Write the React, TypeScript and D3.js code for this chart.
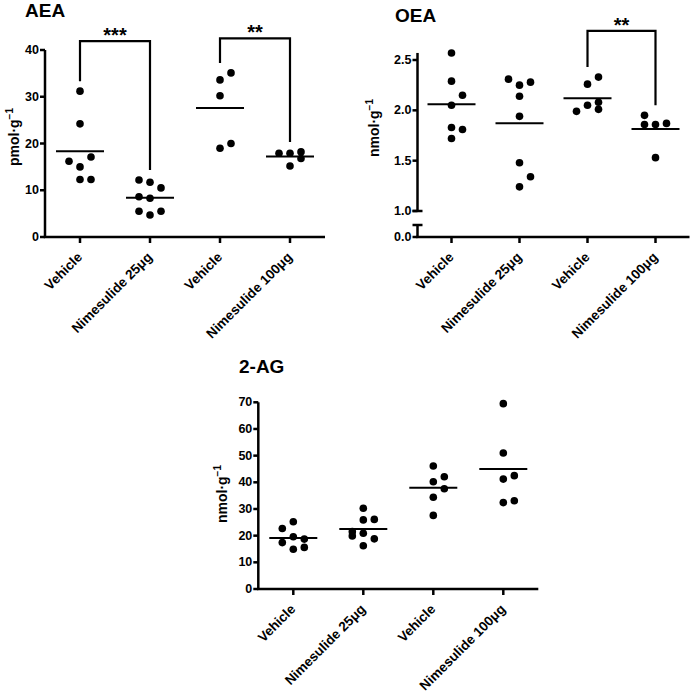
import React from "react";
import * as d3 from "d3";

// ---------- data ----------
const categories = ["Vehicle", "Nimesulide 25μg", "Vehicle", "Nimesulide 100μg"];

// AEA (pmol·g⁻¹)
const aeaVehicleA = [31.2, 24.2, 15.0, 17.1, 16.2, 12.3, 12.3];
const aeaNimesulide25 = [11.7, 10.5, 12.2, 8.3, 8.6, 4.7, 5.5, 5.5];
const aeaVehicleB = [33.6, 35.1, 30.2, 19.0, 20.0];
const aeaNimesulide100 = [17.9, 18.2, 17.9, 16.8, 15.2];
const aeaTicks = [0, 10, 20, 30, 40];
const aeaBrackets = [
  { from: 0, to: 1, label: "***", level: 41.9 },
  { from: 2, to: 3, label: "**", level: 42.5 },
];

// OEA (nmol·g⁻¹)
const oeaVehicleA = [2.57, 2.29, 2.05, 2.15, 1.83, 1.81, 1.72];
const oeaNimesulide25 = [2.25, 2.28, 2.31, 2.14, 1.94, 1.48, 1.24, 1.34];
const oeaVehicleB = [2.26, 2.33, 2.05, 2.08, 1.99, 2.01];
const oeaNimesulide100 = [1.86, 1.87, 1.95, 1.86, 1.53];
const oeaTicksUpper = [1.0, 1.5, 2.0, 2.5];
const oeaTicksLower = [0.0];
const oeaAxisMax = 2.57;
const oeaBrackets = [{ from: 2, to: 3, label: "**", level: 2.79 }];

// 2-AG (nmol·g⁻¹)
const agVehicleA = [25.2, 19.6, 18.7, 22.7, 17.4, 14.9, 15.6];
const agNimesulide25 = [30.3, 25.9, 26.1, 20.9, 18.8, 21.5, 19.9, 16.2];
const agVehicleB = [46.1, 40.2, 42.1, 37.6, 34.4, 27.6];
const agNimesulide100 = [69.5, 51.0, 41.2, 42.5, 32.4, 33.1];
const agTicks = [0, 10, 20, 30, 40, 50, 60, 70];

// ---------- style ----------
const FONT = "'Liberation Sans', Arial, Helvetica, sans-serif";
const DOT_R = 3.8;
const STEP = 11;
const MIN_GAP = 10.8;
const MEAN_HALF = 24;
const AXIS_W = 2.5;

type Pt = { x: number; y: number; slot: number };

function swarm(values: number[], y: (v: number) => number, cx: number): Pt[] {
  const placed: Pt[] = [];
  const slots = [0, 1, -1];
  values.forEach((v) => {
    const py = y(v);
    let chosen: number | null = null;
    let best = 0;
    let bestD = -1;
    for (const s of slots) {
      const same = placed.filter((p) => p.slot === s);
      const md = same.length ? (d3.min(same, (p) => Math.abs(p.y - py)) as number) : Infinity;
      if (md >= MIN_GAP) {
        chosen = s;
        break;
      }
      if (md > bestD) {
        bestD = md;
        best = s;
      }
    }
    const s = chosen === null ? best : chosen;
    placed.push({ x: cx + s * STEP, y: py, slot: s });
  });
  return placed;
}

type PanelProps = {
  title: string;
  titleX: number;
  titleY: number;
  ylabel: string;
  ylabelX: number;
  ylabelY: number;
  groups: number[][];
  ticks: number[];
  fmt: (v: number) => string;
  y: d3.ScaleLinear<number, number>;
  axisX: number;
  axisY: number;
  xEnd: number;
  brackets: { from: number; to: number; label: string; level: number }[];
  broken?: { lowerTicks: number[]; lowerTop: number };
};

function Panel(p: PanelProps) {
  const x = d3
    .scalePoint<string>()
    .domain(categories.map((c, i) => c + i))
    .range([p.axisX, p.xEnd])
    .padding(0.5);
  const cx = (i: number) => x(categories[i] + i) as number;
  const [dMin, dMax] = p.y.domain();
  const yTopPx = p.y(dMax);
  const yBotPx = p.broken ? p.y(dMin) : p.axisY;
  return (
    <g fontFamily={FONT} fontWeight="bold" fill="#000">
      <text x={p.titleX} y={p.titleY} fontSize={19}>{p.title}</text>
      <text
        transform={`translate(${p.ylabelX},${p.ylabelY}) rotate(-90)`}
        textAnchor="middle"
        dominantBaseline="central"
        fontSize={14}
      >
        {p.ylabel}
        <tspan fontSize={10} dy={-5}>−1</tspan>
      </text>
      {/* y axis */}
      <line x1={p.axisX} x2={p.axisX} y1={yTopPx} y2={yBotPx} stroke="#000" strokeWidth={AXIS_W} />
      {p.broken && (
        <g stroke="#000" strokeWidth={AXIS_W}>
          <line x1={p.axisX - 5} x2={p.axisX + 5} y1={yBotPx} y2={yBotPx} />
          <line x1={p.axisX} x2={p.axisX} y1={p.broken.lowerTop} y2={p.axisY} />
          <line x1={p.axisX - 5} x2={p.axisX + 5} y1={p.broken.lowerTop} y2={p.broken.lowerTop} />
        </g>
      )}
      {p.ticks.map((t) => (
        <g key={"t" + t}>
          <line x1={p.axisX - 5} x2={p.axisX} y1={p.y(t)} y2={p.y(t)} stroke="#000" strokeWidth={AXIS_W} />
          <text x={p.axisX - 6} y={p.y(t)} textAnchor="end" dominantBaseline="central" fontSize={12.5}>
            {p.fmt(t)}
          </text>
        </g>
      ))}
      {p.broken &&
        p.broken.lowerTicks.map((t) => (
          <g key={"lt" + t}>
            <line x1={p.axisX - 5} x2={p.axisX} y1={p.axisY} y2={p.axisY} stroke="#000" strokeWidth={AXIS_W} />
            <text x={p.axisX - 6} y={p.axisY} textAnchor="end" dominantBaseline="central" fontSize={12.5}>
              {p.fmt(t)}
            </text>
          </g>
        ))}
      {/* x axis */}
      <line x1={p.axisX - 1.25} x2={p.xEnd} y1={p.axisY} y2={p.axisY} stroke="#000" strokeWidth={AXIS_W} />
      {categories.map((c, i) => (
        <g key={"c" + i}>
          <line x1={cx(i)} x2={cx(i)} y1={p.axisY} y2={p.axisY + 6} stroke="#000" strokeWidth={AXIS_W} />
          <text
            transform={`translate(${cx(i) + 3},${p.axisY + 21}) rotate(-45)`}
            textAnchor="end"
            fontSize={13.5}
          >
            {c}
          </text>
        </g>
      ))}
      {/* points and means */}
      {p.groups.map((vals, i) => {
        const pts = swarm(vals, (v) => p.y(v), cx(i));
        const m = d3.mean(vals) as number;
        return (
          <g key={"g" + i}>
            {pts.map((pt, j) => (
              <circle key={j} cx={pt.x} cy={pt.y} r={DOT_R} fill="#000" />
            ))}
            <line
              x1={cx(i) - MEAN_HALF}
              x2={cx(i) + MEAN_HALF}
              y1={p.y(m)}
              y2={p.y(m)}
              stroke="#000"
              strokeWidth={2}
            />
          </g>
        );
      })}
      {/* significance brackets */}
      {p.brackets.map((b, k) => {
        const top = p.y(b.level);
        const l = cx(b.from);
        const r = cx(b.to);
        const lb = p.y(d3.max(p.groups[b.from]) as number) - 10;
        const rb = p.y(d3.max(p.groups[b.to]) as number) - 10;
        return (
          <g key={"b" + k}>
            <path
              d={`M${l},${lb}V${top}H${r}V${rb}`}
              fill="none"
              stroke="#000"
              strokeWidth={2.2}
            />
            <text x={(l + r) / 2} y={top + 1} textAnchor="middle" fontSize={20}>
              {b.label}
            </text>
          </g>
        );
      })}
    </g>
  );
}

export default function App() {
  const aeaY = d3.scaleLinear().domain([0, 40]).range([237, 50]);
  const oeaY = d3
    .scaleLinear()
    .domain([1.0, oeaAxisMax])
    .range([211, 211 - (oeaAxisMax - 1.0) * (151 / 1.5)]);
  const agY = d3.scaleLinear().domain([0, 70]).range([589, 402.3]);
  return (
    <svg
      width={693}
      height={694}
      style={{ position: "absolute", left: 0, top: 0, background: "#fff" }}
    >
      <rect width={693} height={694} fill="#fff" />
      <Panel
        title="AEA"
        titleX={25}
        titleY={17}
        ylabel="pmol·g"
        ylabelX={14}
        ylabelY={137}
        groups={[aeaVehicleA, aeaNimesulide25, aeaVehicleB, aeaNimesulide100]}
        ticks={aeaTicks}
        fmt={d3.format("d")}
        y={aeaY}
        axisX={45}
        axisY={237}
        xEnd={325}
        brackets={aeaBrackets}
      />
      <Panel
        title="OEA"
        titleX={395}
        titleY={22}
        ylabel="nmol·g"
        ylabelX={374}
        ylabelY={128}
        groups={[oeaVehicleA, oeaNimesulide25, oeaVehicleB, oeaNimesulide100]}
        ticks={oeaTicksUpper}
        fmt={d3.format(".1f")}
        y={oeaY}
        axisX={417.5}
        axisY={237}
        xEnd={689.5}
        brackets={oeaBrackets}
        broken={{ lowerTicks: oeaTicksLower, lowerTop: 225 }}
      />
      <Panel
        title="2-AG"
        titleX={239}
        titleY={373}
        ylabel="nmol·g"
        ylabelX={222}
        ylabelY={494}
        groups={[agVehicleA, agNimesulide25, agVehicleB, agNimesulide100]}
        ticks={agTicks}
        fmt={d3.format("d")}
        y={agY}
        axisX={258.3}
        axisY={589}
        xEnd={538.3}
        brackets={[]}
      />
    </svg>
  );
}
